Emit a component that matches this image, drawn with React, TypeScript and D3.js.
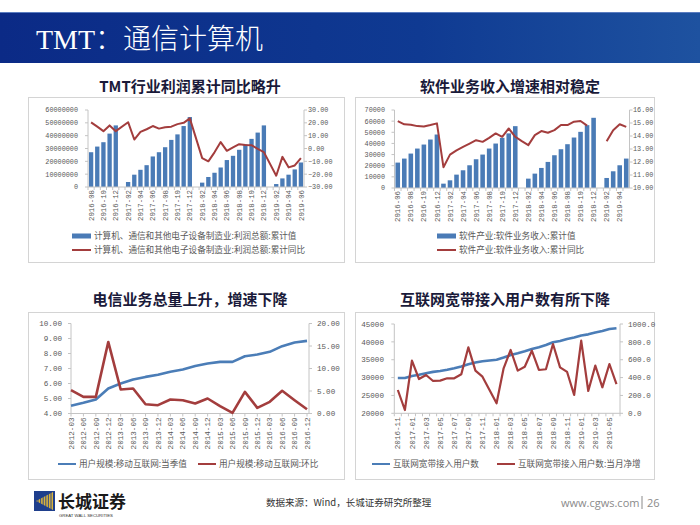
import React from "react";
import * as d3 from "d3";

// ---------- Panel 1: TMT profit ----------
const p1Categories = [
  "2016-08","2016-09","2016-10","2016-11","2016-12",
  "2017-01","2017-02","2017-03","2017-04","2017-05","2017-06","2017-07","2017-08","2017-09","2017-10","2017-11","2017-12",
  "2018-01","2018-02","2018-03","2018-04","2018-05","2018-06","2018-07","2018-08","2018-09","2018-10","2018-11","2018-12",
  "2019-01","2019-02","2019-03","2019-04","2019-05","2019-06",
];
const p1Profit: (number | null)[] = [
  27100000, 31500000, 34900000, 41600000, 48000000,
  null, 3900000, 9600000, 13400000, 17000000, 23800000, 27100000, 31000000, 36700000, 41000000, 47500000, 54500000,
  null, 3400000, 7800000, 11100000, 15200000, 21000000, 24300000, 29000000, 33300000, 37500000, 42400000, 48000000,
  null, 2300000, 6700000, 9600000, 13700000, 19100000,
];
const p1ProfitYoY: (number | null)[] = [
  20.4, 17, 13.5, 18, 13.5,
  null, 20.5, 7, 13, 15, 17.5, 15.5, 16.5, 17, 19, 20, 23.5,
  null, -7.5, -10, -3, 5, -1.8, 0.8, 3.4, 2.8, 2.6, -0.3, -2.8,
  null, -21.2, -6.5, -14.7, -13.2, -7.5,
];
const p1LeftTicks = [0, 10000000, 20000000, 30000000, 40000000, 50000000, 60000000];
const p1RightTicks = [-30, -20, -10, 0, 10, 20, 30];
const p1Title = "TMT行业利润累计同比略升";
const p1Legend = ["计算机、通信和其他电子设备制造业:利润总额:累计值", "计算机、通信和其他电子设备制造业:利润总额:累计同比"];

// ---------- Panel 2: software revenue ----------
const p2Categories = [
  "2016-06","2016-07","2016-08","2016-09","2016-10","2016-11","2016-12",
  "2017-01","2017-02","2017-03","2017-04","2017-05","2017-06","2017-07","2017-08","2017-09","2017-10","2017-11","2017-12",
  "2018-01","2018-02","2018-03","2018-04","2018-05","2018-06","2018-07","2018-08","2018-09","2018-10","2018-11","2018-12",
  "2019-01","2019-02","2019-03","2019-04","2019-05",
];
const p2Revenue: (number | null)[] = [
  22800, 26400, 30900, 35400, 39000, 43500, 48000,
  3900, 6900, 12000, 15900, 20400, 25800, 30000, 35400, 39900, 45000, 49000, 55500,
  null, 8400, 12900, 18000, 23400, 29400, 34800, 39300, 45300, 50400, 56400, 63000,
  null, 9000, 15000, 20400, 26400,
];
const p2RevenueYoY: (number | null)[] = [
  15.15, 14.9, 14.87, 14.76, 14.73, 14.84, 14.97,
  11.6, 12.57, 12.9, 13.17, 13.42, 13.68, 13.55, 13.86, 14.2, 13.94, 14.58, 13.94,
  13.6, 13.3, 14.07, 14.38, 14.25, 14.45, 14.84, 14.84, 15.1, 15.15, 14.8, null,
  null, 13.6, 14.45, 14.9, 14.7,
];
const p2LeftTicks = [0, 10000, 20000, 30000, 40000, 50000, 60000, 70000];
const p2RightTicks = [10, 11, 12, 13, 14, 15, 16];
const p2Title = "软件业务收入增速相对稳定";
const p2Legend = ["软件产业:软件业务收入:累计值", "软件产业:软件业务收入:累计同比"];

// ---------- Panel 3: mobile internet users ----------
const p3Categories = [
  "2012-03","2012-06","2012-09","2012-12","2013-03","2013-06","2013-09","2013-12",
  "2014-03","2014-06","2014-09","2014-12","2015-03","2015-06","2015-09","2015-12",
  "2016-03","2016-06","2016-09","2016-12",
];
const p3Users = [4.51, 4.71, 4.93, 5.67, 6.0, 6.27, 6.44, 6.58, 6.78, 6.93, 7.16, 7.33, 7.44, 7.44, 7.82, 7.93, 8.11, 8.49, 8.73, 8.84];
const p3QoQ = [5.19, 3.7, 3.7, 15.9, 5.33, 5.56, 2.07, 1.85, 3.1, 2.96, 2.22, 3.33, 1.63, 0.15, 4.81, 1.26, 2.59, 5.04, 2.96, 0.96];
const p3LeftTicks = [4, 5, 6, 7, 8, 9, 10];
const p3RightTicks = [0, 5, 10, 15, 20];
const p3Title = "电信业务总量上升，增速下降";
const p3Legend = ["用户规模:移动互联网:当季值", "用户规模:移动互联网:环比"];

// ---------- Panel 4: broadband users ----------
const p4Categories = [
  "2016-11","2016-12",
  "2017-01","2017-02","2017-03","2017-04","2017-05","2017-06","2017-07","2017-08","2017-09","2017-10","2017-11","2017-12",
  "2018-01","2018-02","2018-03","2018-04","2018-05","2018-06","2018-07","2018-08","2018-09","2018-10","2018-11","2018-12",
  "2019-01","2019-02","2019-03","2019-04","2019-05","2019-06",
];
const p4Users = [
  29900, 29900,
  30450, 30800, 31200, 31600, 31850, 32200, 32600, 33100, 33700, 34200, 34550, 34800,
  35000, 35600, 36300, 36800, 37350, 38000, 38500, 39100, 39900, 40250, 40800, 41200,
  41800, 42100, 42600, 43050, 43600, 43800,
];
const p4NetAdd = [
  261, 37,
  590, 384, 429, 362, 366, 392, 392, 437, 739, 478, 410, 261,
  112, 504, 709, 478, 522, 701, 485, 493, 776, 515, 463, 205,
  813, 250, 534, 291, 552, 328,
];
const p4LeftTicks = [20000, 25000, 30000, 35000, 40000, 45000];
const p4RightTicks = [0, 200, 400, 600, 800, 1000];
const p4Title = "互联网宽带接入用户数有所下降";
const p4Legend = ["互联网宽带接入用户数", "互联网宽带接入用户数:当月净增"];

// ---------- styles ----------
const BAR = "#4a7bb6";
const RED = "#a33d3d";
const BLUE_LINE = "#4b7db7";
const AXIS = "#c4c4c4";
const TXT = "#595959";
const MONO = "'Liberation Mono', 'DejaVu Sans Mono', monospace";
const CJK = "'Noto Sans CJK SC', sans-serif";

type Pt = { c: string; v: number | null };

function ComboPanel(props: {
  cats: string[]; bars: (number | null)[]; line: (number | null)[];
  left: number; right: number; top: number; bottom: number;
  lDomain: [number, number]; lTicks: number[]; lFmt: (n: number) => string; lLabelX: number;
  rDomain: [number, number]; rTicks: number[]; rFmt: (n: number) => string; rLabelX: number;
  legendX: number; legend: string[];
}) {
  const p = props;
  const x = d3.scaleBand<string>().domain(p.cats).range([p.left, p.right]);
  const yL = d3.scaleLinear().domain(p.lDomain).range([p.bottom, p.top]);
  const yR = d3.scaleLinear().domain(p.rDomain).range([p.bottom, p.top]);
  const bw = x.bandwidth();
  const cx = (c: string) => (x(c) as number) + bw / 2;
  const pts: Pt[] = p.cats.map((c, i) => ({ c, v: p.line[i] }));
  const lineGen = d3.line<Pt>().defined((d) => d.v != null).x((d) => cx(d.c)).y((d) => yR(d.v as number));
  // connect across single missing January points, break across longer gaps
  const segs: Pt[][] = [];
  let cur: Pt[] = [];
  let nullRun = 0;
  pts.forEach((d) => {
    if (d.v == null) { nullRun++; return; }
    if (nullRun >= 2 && cur.length) { segs.push(cur); cur = []; }
    nullRun = 0;
    cur.push(d);
  });
  if (cur.length) segs.push(cur);
  const barW = bw * 0.7;
  return (
    <g>
      {p.cats.map((c, i) =>
        p.bars[i] == null ? null : (
          <rect key={c} x={cx(c) - barW / 2} y={yL(p.bars[i] as number)} width={barW}
            height={p.bottom - yL(p.bars[i] as number)} fill={BAR} />
        )
      )}
      <line x1={p.left} x2={p.left} y1={p.top} y2={p.bottom} stroke={AXIS} />
      <line x1={p.right} x2={p.right} y1={p.top} y2={p.bottom} stroke={AXIS} />
      <line x1={p.left} x2={p.right} y1={p.bottom} y2={p.bottom} stroke={AXIS} />
      {p.lTicks.map((t) => (
        <g key={"l" + t}>
          <line x1={p.left - 3} x2={p.left} y1={yL(t)} y2={yL(t)} stroke={AXIS} />
          <text x={p.lLabelX} y={yL(t)} dy="0.35em" textAnchor="end" fontSize={6.8} fontFamily={MONO} fill={TXT}>{p.lFmt(t)}</text>
        </g>
      ))}
      {p.rTicks.map((t) => (
        <g key={"r" + t}>
          <line x1={p.right} x2={p.right + 3} y1={yR(t)} y2={yR(t)} stroke={AXIS} />
          <text x={p.rLabelX} y={yR(t)} dy="0.35em" textAnchor="start" fontSize={6.8} fontFamily={MONO} fill={TXT}>{p.rFmt(t)}</text>
        </g>
      ))}
      {p.cats.map((c) => (
        <line key={"t" + c} x1={x(c) as number} x2={x(c) as number} y1={p.bottom} y2={p.bottom + 3} stroke={AXIS} />
      ))}
      {p.cats.map((c, i) =>
        i % 2 === 0 ? (
          <text key={"x" + c} transform={`translate(${cx(c)},${p.bottom + 3}) rotate(-90)`} dy="0.35em"
            textAnchor="end" fontSize={7.4} fontFamily={MONO} fill={TXT}>{c}</text>
        ) : null
      )}
      {segs.map((s, k) => (
        <path key={"s" + k} d={lineGen(s) || ""} fill="none" stroke={RED} strokeWidth={2} strokeLinejoin="round" />
      ))}
      <rect x={p.legendX} y={233.5} width={19} height={5} fill={BAR} />
      <text x={p.legendX + 22} y={236} dy="0.35em" fontSize={8.6} fontFamily={CJK} fill={TXT}>{p.legend[0]}</text>
      <line x1={p.legendX} x2={p.legendX + 19} y1={250} y2={250} stroke={RED} strokeWidth={2} />
      <text x={p.legendX + 22} y={250} dy="0.35em" fontSize={8.6} fontFamily={CJK} fill={TXT}>{p.legend[1]}</text>
    </g>
  );
}

function LinePanel(props: {
  cats: string[]; a: number[]; b: number[]; mode: "point" | "band";
  left: number; right: number; top: number; bottom: number;
  lDomain: [number, number]; lTicks: number[]; lFmt: (n: number) => string; lLabelX: number;
  rDomain: [number, number]; rTicks: number[]; rFmt: (n: number) => string; rLabelX: number;
  labelEvery: number; legend: string[]; legX: number[]; redW: number;
}) {
  const p = props;
  let cx: (c: string) => number;
  let bounds: number[] = [];
  const extra = p.mode === "point" ? 2 : 0;
  if (p.mode === "point") {
    const x = d3.scalePoint<string>().domain(p.cats).range([p.left, p.right]);
    cx = (c) => x(c) as number;
    bounds = p.cats.map((c) => x(c) as number);
  } else {
    const x = d3.scaleBand<string>().domain(p.cats).range([p.left, p.right]);
    cx = (c) => (x(c) as number) + x.bandwidth() / 2;
    bounds = p.cats.map((c) => x(c) as number).concat([p.right]);
  }
  const yL = d3.scaleLinear().domain(p.lDomain).range([p.bottom, p.top]);
  const yR = d3.scaleLinear().domain(p.rDomain).range([p.bottom, p.top]);
  const la = d3.line<number>().x((_, i) => cx(p.cats[i])).y((d) => yL(d));
  const lb = d3.line<number>().x((_, i) => cx(p.cats[i])).y((d) => yR(d));
  return (
    <g>
      <line x1={p.left} x2={p.left} y1={p.top} y2={p.bottom} stroke={AXIS} />
      <line x1={p.right + extra} x2={p.right + extra} y1={p.top} y2={p.bottom} stroke={AXIS} />
      <line x1={p.left} x2={p.right + extra} y1={p.bottom} y2={p.bottom} stroke={AXIS} />
      {p.lTicks.map((t) => (
        <g key={"l" + t}>
          <line x1={p.left - 3} x2={p.left} y1={yL(t)} y2={yL(t)} stroke={AXIS} />
          <text x={p.lLabelX} y={yL(t)} dy="0.35em" textAnchor="end" fontSize={7.6} fontFamily={MONO} fill={TXT}>{p.lFmt(t)}</text>
        </g>
      ))}
      {p.rTicks.map((t) => (
        <g key={"r" + t}>
          <line x1={p.right + extra} x2={p.right + extra + 3} y1={yR(t)} y2={yR(t)} stroke={AXIS} />
          <text x={p.rLabelX} y={yR(t)} dy="0.35em" textAnchor="start" fontSize={7.6} fontFamily={MONO} fill={TXT}>{p.rFmt(t)}</text>
        </g>
      ))}
      {bounds.map((b, i) => (
        <line key={"t" + i} x1={b} x2={b} y1={p.bottom} y2={p.bottom + 3} stroke={AXIS} />
      ))}
      {p.cats.map((c, i) =>
        i % p.labelEvery === 0 ? (
          <text key={"x" + c} transform={`translate(${cx(c)},${p.bottom + 4}) rotate(-90)`} dy="0.35em"
            textAnchor="end" fontSize={7.6} fontFamily={MONO} fill={TXT}>{c}</text>
        ) : null
      )}
      <path d={la(p.a) || ""} fill="none" stroke={BLUE_LINE} strokeWidth={2.6} strokeLinejoin="round" />
      <path d={lb(p.b) || ""} fill="none" stroke={RED} strokeWidth={p.redW} strokeLinejoin="round" />
      <line x1={p.legX[0]} x2={p.legX[0] + 18} y1={464} y2={464} stroke={BLUE_LINE} strokeWidth={2} />
      <text x={p.legX[0] + 21} y={464} dy="0.35em" fontSize={8.6} fontFamily={CJK} fill={TXT}>{p.legend[0]}</text>
      <line x1={p.legX[1]} x2={p.legX[1] + 18} y1={464} y2={464} stroke={RED} strokeWidth={2} />
      <text x={p.legX[1] + 21} y={464} dy="0.35em" fontSize={8.6} fontFamily={CJK} fill={TXT}>{p.legend[1]}</text>
    </g>
  );
}

function Logo() {
  const stripes = [0, 1, 2, 3, 4, 5];
  return (
    <g>
      <rect x={34} y={491} width={21} height={20} fill="#1f3f8c" />
      <polygon points="36,501 53,492 53,510" fill="#d9b23c" />
      {stripes.map((s) => (
        <line key={s} x1={38 + s * 2.6} x2={38 + s * 2.6} y1={492} y2={510} stroke="#1f3f8c" strokeWidth={0.9} />
      ))}
    </g>
  );
}

export default function App() {
  const fmtInt = (n: number) => d3.format("d")(n);
  const fmt2 = (n: number) => d3.format(".2f")(n);
  const fmt1 = (n: number) => d3.format(".1f")(n);
  return (
    <div style={{ position: "fixed", left: 0, top: 0 }}>
      <svg width={700} height={525} viewBox="0 0 700 525" style={{ display: "block", background: "#ffffff" }}>
        <defs>
          <linearGradient id="hdr" x1="0" x2="1" y1="0" y2="0">
            <stop offset="0" stopColor="#0b2a86" />
            <stop offset="0.6" stopColor="#0f3a92" />
            <stop offset="1" stopColor="#1e52a0" />
          </linearGradient>
        </defs>
        <rect x={0} y={0} width={700} height={525} fill="#ffffff" />
        <rect x={0} y={12} width={700} height={51} fill="url(#hdr)" />
        <line x1={0} x2={700} y1={12.5} y2={12.5} stroke="#5a7cc0" strokeWidth={1} />
        <text x={36} y={49} fill="#ffffff" fontSize={28}>
          <tspan fontFamily="'Liberation Serif', serif">TMT</tspan>
          <tspan fontFamily={CJK} fontWeight={300}>：通信计算机</tspan>
        </text>

        <text x={190} y={92} textAnchor="middle" fontSize={15} fontWeight={700} fontFamily={CJK} fill="#1a1a3a">{p1Title}</text>
        <text x={510} y={92} textAnchor="middle" fontSize={15} fontWeight={700} fontFamily={CJK} fill="#1a1a3a">{p2Title}</text>
        <text x={190} y={305} textAnchor="middle" fontSize={15} fontWeight={700} fontFamily={CJK} fill="#1a1a3a">{p3Title}</text>
        <text x={505} y={305} textAnchor="middle" fontSize={15} fontWeight={700} fontFamily={CJK} fill="#1a1a3a">{p4Title}</text>

        <rect x={28.5} y={97.5} width={316} height={165} fill="none" stroke="#d4d4d4" />
        <rect x={355.5} y={97.5} width={299} height={165} fill="none" stroke="#d4d4d4" />
        <rect x={28.5} y={312.5} width={316} height={167} fill="none" stroke="#d4d4d4" />
        <rect x={355.5} y={312.5} width={299} height={167} fill="none" stroke="#d4d4d4" />

        <ComboPanel cats={p1Categories} bars={p1Profit} line={p1ProfitYoY}
          left={88} right={304} top={110} bottom={187}
          lDomain={[0, 60000000]} lTicks={p1LeftTicks} lFmt={fmtInt} lLabelX={78}
          rDomain={[-30, 30]} rTicks={p1RightTicks} rFmt={fmt2} rLabelX={308}
          legendX={72} legend={p1Legend} />

        <ComboPanel cats={p2Categories} bars={p2Revenue} line={p2RevenueYoY}
          left={394.5} right={629.5} top={110} bottom={188}
          lDomain={[0, 70000]} lTicks={p2LeftTicks} lFmt={fmtInt} lLabelX={385}
          rDomain={[10, 16]} rTicks={p2RightTicks} rFmt={fmt2} rLabelX={633}
          legendX={437} legend={p2Legend} />

        <LinePanel cats={p3Categories} a={p3Users} b={p3QoQ} mode="point"
          left={71} right={307} top={323.5} bottom={413.5}
          lDomain={[4, 10]} lTicks={p3LeftTicks} lFmt={fmt2} lLabelX={62}
          rDomain={[0, 20]} rTicks={p3RightTicks} rFmt={fmt2} rLabelX={317}
          labelEvery={1} legend={p3Legend} legX={[58, 198]} redW={2.6} />

        <LinePanel cats={p4Categories} a={p4Users} b={p4NetAdd} mode="band"
          left={394.3} right={620} top={324} bottom={413.3}
          lDomain={[20000, 45000]} lTicks={p4LeftTicks} lFmt={fmtInt} lLabelX={384}
          rDomain={[0, 1000]} rTicks={p4RightTicks} rFmt={fmt1} rLabelX={628}
          labelEvery={2} legend={p4Legend} legX={[372, 497]} redW={2.2} />

        <Logo />
        <text x={58} y={508} fontSize={17} fontWeight={700} fontFamily={CJK} fill="#1a1a1a">长城证券</text>
        <text x={59} y={516.5} fontSize={4.3} fontFamily="'Liberation Sans', sans-serif" fill="#333">GREAT WALL SECURITIES</text>
        <text x={266} y={506} fontSize={9.5} fontFamily={CJK} fill="#333">数据来源：Wind，长城证券研究所整理</text>
        <text x={561} y={507} fontSize={11} fontFamily="'Open Sans', 'Liberation Sans', sans-serif" fill="#8a8a8a">www.cgws.com</text>
        <line x1={642} x2={642} y1={496} y2={509} stroke="#8a8a8a" strokeWidth={1} />
        <text x={647} y={507} fontSize={11} fontFamily="'Open Sans', 'Liberation Sans', sans-serif" fill="#8a8a8a">26</text>
      </svg>
    </div>
  );
}
